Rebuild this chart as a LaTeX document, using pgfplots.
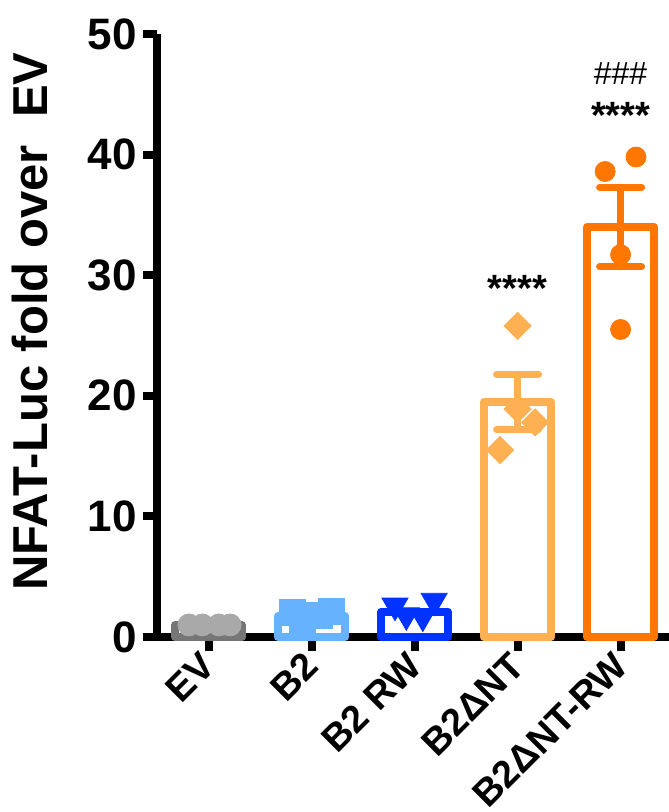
\documentclass[border=0pt]{standalone}
\usepackage{fontspec}
\setmainfont{Liberation Sans}
\usepackage{pgfplots}
\pgfplotsset{compat=1.18}
\definecolor{evgray}{HTML}{A9A9A9}
\definecolor{evdark}{HTML}{767676}
\definecolor{ltblue}{HTML}{66B2FF}
\definecolor{dkblue}{HTML}{0033FF}
\definecolor{ltorange}{HTML}{FFB053}
\definecolor{dkorange}{HTML}{FF7700}
\begin{document}
\begin{tikzpicture}
\begin{axis}[
 name=ax,
 scale only axis, width=256pt, height=301.5pt,
 xmin=-0.5, xmax=4.47, ymin=0, ymax=50,
 axis x line=bottom, axis y line=left,
 axis line style={-, line width=4pt, black},
 x axis line style={-, shorten <=-7pt},
 y axis line style={-},
 tick align=outside, major tick length=7pt,
 tick style={line width=4pt, black},
 xtick={0,1,2,3,4}, xticklabels={EV,B2,B2 RW,B2ΔNT,B2ΔNT-RW},
 ytick={0,10,20,30,40,50},
 minor tick num=0,
 /pgf/number format/assume math mode=true,
 yticklabel style={font=\fontsize{22}{22}\selectfont\bfseries, inner sep=0pt, xshift=-3pt},
 xticklabel style={font=\fontsize{19}{19}\selectfont\bfseries, rotate=45, anchor=east, inner sep=0pt},
 xticklabel shift=4pt,
 ylabel={NFAT-Luc fold over\ \ EV},
 ylabel style={font=\fontsize{24.5}{24.5}\selectfont\bfseries, at={(axis description cs:-0.248,0.523)}, anchor=center},
 clip=false,
]
% bars (means)
\addplot[ybar, bar width=33.5pt, bar shift=0pt, fill=white, draw=evdark, line width=4pt, line join=round] coordinates {(0,1.0)};
\addplot[ybar, bar width=33.5pt, bar shift=0pt, fill=white, draw=ltblue, line width=4pt, line join=round] coordinates {(1,1.75)};
\addplot[ybar, bar width=33.5pt, bar shift=0pt, fill=white, draw=dkblue, line width=4pt, line join=round] coordinates {(2,2.1)};
\addplot[ybar, bar width=33.5pt, bar shift=0pt, fill=white, draw=ltorange, line width=4pt, line join=round] coordinates {(3,19.5)};
\addplot[ybar, bar width=33.5pt, bar shift=0pt, fill=white, draw=dkorange, line width=4pt, line join=round] coordinates {(4,34.0)};
% error bars (SEM)
\addplot[draw=none, no marks, error bars/.cd, y dir=both, y explicit,
  error bar style={draw=ltorange, line width=3.5pt, line cap=round},
  error mark options={draw=ltorange, line width=3.5pt, mark size=10.5pt, line cap=round, rotate=90}]
  coordinates {(3,19.5) +- (0,2.3)};
\addplot[draw=none, no marks, error bars/.cd, y dir=both, y explicit,
  error bar style={draw=dkorange, line width=3.5pt, line cap=round},
  error mark options={draw=dkorange, line width=3.5pt, mark size=10.5pt, line cap=round, rotate=90}]
  coordinates {(4,34.0) +- (0,3.3)};
% individual points
\addplot[only marks, mark=*, mark size=5.5pt, mark options={fill=evgray, draw=evgray}]
  coordinates {(-0.19,1.0) (-0.06,1.0) (0.1,1.0) (0.21,1.0)};
\addplot[only marks, mark=square*, mark size=6.5pt, mark options={fill=ltblue, draw=ltblue}]
  coordinates {(0.81,2.0) (0.91,1.3) (1.08,1.8) (1.19,2.1)};
\addplot[only marks, mark=triangle*, mark size=7.5pt, mark options={fill=dkblue, draw=dkblue, rotate=180}]
  coordinates {(1.81,2.6) (1.92,1.8) (2.08,1.7) (2.19,3.0)};
\addplot[only marks, mark=square*, mark size=4.8pt, mark options={fill=ltorange, draw=ltorange, rotate=45}]
  coordinates {(3,25.8) (3,18.9) (3.17,17.8) (2.83,15.5)};
\addplot[only marks, mark=*, mark size=5pt, mark options={fill=dkorange, draw=dkorange}]
  coordinates {(3.85,38.6) (4.15,39.8) (4,31.7) (4,25.5)};
% significance annotations
\node[anchor=base, font=\fontsize{19}{19}\selectfont\bfseries, inner sep=0pt] at (axis cs:3,27.8) {****};
\node[anchor=base, font=\fontsize{19}{19}\selectfont\bfseries, inner sep=0pt] at (axis cs:4,42.15) {****};
\node[anchor=base, font=\fontsize{16}{16}\selectfont, inner sep=0pt] at (axis cs:4,45.8) {\#\#\#};
\end{axis}
\pgfresetboundingbox
\path[use as bounding box] (ax.south west) ++(-78.5pt,-87.5pt) rectangle ++(334pt,406pt);
\end{tikzpicture}
\end{document}
